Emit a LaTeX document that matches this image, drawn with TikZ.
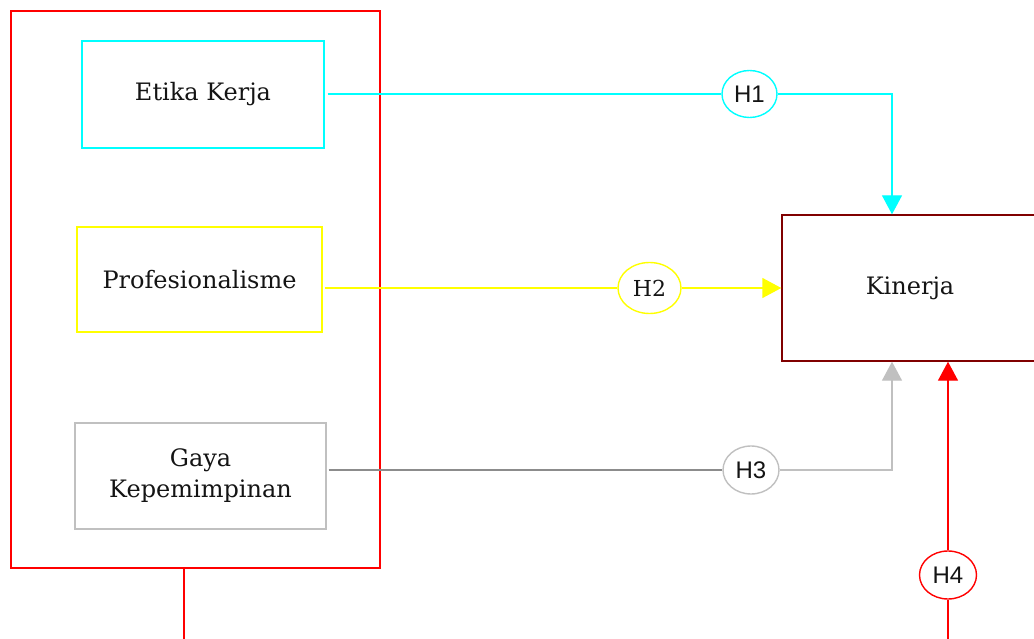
\documentclass[tikz,border=0pt]{standalone}
\usepackage{fontspec}
\newfontfamily\serifbox{DejaVu Serif}
\newfontfamily\sansh{Liberation Sans}
\usetikzlibrary{shapes.geometric,arrows.meta}
\definecolor{kinred}{HTML}{800000}
\definecolor{cyanc}{HTML}{00FFFF}
\definecolor{yelc}{HTML}{FFFF00}
\definecolor{lgray}{HTML}{C0C0C0}
\definecolor{dgray}{HTML}{8C8C8C}
\definecolor{redc}{HTML}{FF0000}
\begin{document}
\begin{tikzpicture}[x=1pt,y=-1pt,
  box/.style={draw,rectangle,line width=1.4pt,inner sep=0pt,align=center,
    font=\serifbox\fontsize{24}{31}\selectfont,text=black!92},
  hyp/.style={draw,ellipse,line width=1.4pt,inner sep=0pt,fill=white,
    font=\sansh\fontsize{24}{28}\selectfont,text=black!92},
  conn/.style={line width=1.4pt},
  tip/.style={-{Triangle[width=20pt,length=19pt]}}]
\useasboundingbox (0,0) rectangle (1034,639);

\node[box,draw=redc,minimum width=369pt,minimum height=557pt] (grp) at (195.5,289.5) {};
\node[box,draw=cyanc,minimum width=242pt,minimum height=107pt] (etika) at (203,94.5) {Etika Kerja};
\node[box,draw=yelc,minimum width=245pt,minimum height=105pt] (prof) at (199.5,279.5) {Profesionalisme};
\node[box,draw=lgray,minimum width=251pt,minimum height=106pt] (gaya) at (200.5,476) {Gaya\\Kepemimpinan};
\node[box,draw=kinred,minimum width=256pt,minimum height=146pt] (kin) at (910,288) {Kinerja};

\node[hyp,draw=cyanc,minimum width=55pt,minimum height=47pt] (h1) at (749.5,94) {H1};
\node[hyp,draw=yelc,minimum width=63pt,minimum height=51pt,font=\serifbox\fontsize{22}{26}\selectfont] (h2) at (649.5,288) {H2};
\node[hyp,draw=lgray,minimum width=56pt,minimum height=48pt] (h3) at (751,470) {H3};
\node[hyp,draw=redc,minimum width=57pt,minimum height=48pt] (h4) at (948,575) {H4};

\coordinate (rb) at (184,639);
\coordinate (hb) at (948,639);
\coordinate (cx) at (892,0);

% H1
\draw[conn,draw=cyanc] ([xshift=3pt]etika.east |- h1) -- (h1.west);
\draw[conn,draw=cyanc,tip] (h1.east) -| (cx |- kin.north);
% H2
\draw[conn,draw=yelc] ([xshift=2pt]prof.east |- h2) -- (h2.west);
\draw[conn,draw=yelc,tip] (h2.east) -- (kin.west |- h2);
% H3
\draw[conn,draw=dgray] ([xshift=2pt]gaya.east |- h3) -- (h3.west);
\draw[conn,draw=lgray,tip] (h3.east) -| (cx |- kin.south);
% H4
\draw[conn,draw=redc] (grp.south -| rb) -- (rb);
\draw[conn,draw=redc] (hb) -- (h4.south);
\draw[conn,draw=redc,tip] (h4.north) -- (h4.north |- kin.south);
\end{tikzpicture}
\end{document}
